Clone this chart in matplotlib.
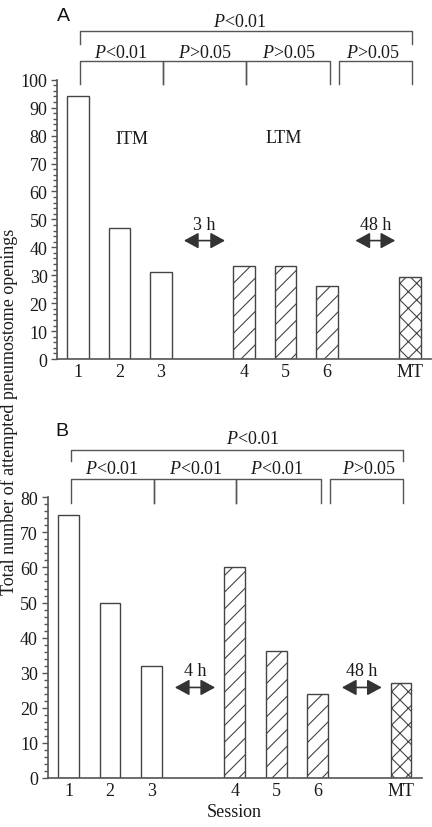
import numpy as np
import matplotlib
matplotlib.use('Agg')
import matplotlib.pyplot as plt
from matplotlib.ticker import MultipleLocator

plt.rcParams['font.family'] = 'Liberation Serif'
plt.rcParams['mathtext.fontset'] = 'custom'
plt.rcParams['mathtext.it'] = 'Liberation Serif:italic'
plt.rcParams['mathtext.rm'] = 'Liberation Serif'
plt.rcParams['hatch.linewidth'] = 0.8

# data
sessions = ['1', '2', '3', '4', '5', '6', 'MT']
counts_a = [94, 47, 31, 33.4, 33.4, 26.2, 29.2]
counts_b = [75, 50, 32, 60, 36.2, 24, 27]
hatches = ['', '', '', '//', '//', '//', 'xx']
inner_p_a = ['<0.01', '>0.05', '>0.05', '>0.05']
inner_p_b = ['<0.01', '<0.01', '<0.01', '>0.05']
outer_p = '<0.01'
gap_a = '3 h'
gap_b = '4 h'

xpos = [1, 2, 3, 5, 6, 7, 9]
LINE = '#555555'
TXT = '#1a1a1a'
FS = 13


def ptext(s):
    return r'$P$' + s


def draw_panel(ax, counts, ymax, width, inner_p, gap, lay):
    ax.bar(xpos, counts, width=width, color='white', edgecolor='#444444',
           linewidth=1.0)
    for b, h in zip(ax.patches, hatches):
        b.set_hatch(h)
    ax.set_xlim(0.5, 9.5)
    ax.set_ylim(0, ymax)
    ax.set_xticks(xpos)
    ax.set_xticklabels(sessions, fontsize=FS, color=TXT)
    ax.tick_params(axis='x', length=0, pad=3)
    ax.yaxis.set_major_locator(MultipleLocator(10))
    ax.yaxis.set_minor_locator(MultipleLocator(2))
    ax.tick_params(axis='y', which='major', length=4, width=1, color=LINE,
                   labelsize=FS, labelcolor=TXT, pad=3)
    ax.tick_params(axis='y', which='minor', length=3, width=1, color=LINE)
    for s in ['top', 'right']:
        ax.spines[s].set_visible(False)
    for s in ['left', 'bottom']:
        ax.spines[s].set_color(LINE)
        ax.spines[s].set_linewidth(1.2)

    # brackets
    kw = dict(color=LINE, lw=1.0, clip_on=False)
    oy, oe, ot, ox = lay['outer']
    ax.plot([1.05, 1.05, 9.05, 9.05], [oe, oy, oy, oe], **kw)
    ax.text(ox, ot, ptext(outer_p), ha='center', va='center', fontsize=FS,
            color=TXT, clip_on=False)
    iy, ie, it, ixs = lay['inner']
    spans = [(1.05, 3.05), (3.05, 5.04), (5.04, 7.07), (7.29, 9.05)]
    for (x0, x1), p, tx in zip(spans, inner_p, ixs):
        ax.plot([x0, x0, x1, x1], [ie, iy, iy, ie], **kw)
        ax.text(tx, it, ptext(p), ha='center', va='center', fontsize=FS,
                color=TXT, clip_on=False)

    # time gaps
    ay, ty, g1, g2 = lay['arrows']
    for (x0, x1), lbl in zip([g1, g2], [gap, '48 h']):
        ax.annotate('', xy=(x1, ay), xytext=(x0, ay),
                    arrowprops=dict(arrowstyle='<|-|>,head_length=0.55,head_width=0.3',
                                    color='#333333', lw=1.2, shrinkA=0, shrinkB=0,
                                    mutation_scale=16))
        ax.text((x0 + x1) / 2, ty, lbl, ha='center', va='center', fontsize=FS,
                color=TXT)


fig = plt.figure(figsize=(4.32, 8.28), dpi=100)
ax_a = fig.add_axes([0.1326, 0.5652, 0.8650, 0.3373])
ax_b = fig.add_axes([0.1104, 0.0592, 0.8657, 0.3390])

draw_panel(ax_a, counts_a, 100, 0.52, inner_p_a, gap_a, dict(
    outer=(117.3, 112.8, 120.9, 4.90),
    inner=(106.8, 98.5, 109.9, [2.03, 4.07, 6.08, 8.10]),
    arrows=(42.4, 48.3, (3.55, 4.54), (7.68, 8.64))))
ax_a.text(2.3, 78.8, 'ITM', ha='center', va='center', fontsize=FS, color=TXT)
ax_a.text(5.96, 79.4, 'LTM', ha='center', va='center', fontsize=FS, color=TXT)

draw_panel(ax_b, counts_b, 80, 0.5, inner_p_b, gap_b, dict(
    outer=(93.6, 90.3, 96.7, 5.44),
    inner=(85.2, 78.4, 88.3, [2.04, 4.06, 6.01, 8.23]),
    arrows=(25.8, 30.7, (3.56, 4.53), (7.58, 8.54))))
ax_b.set_xlabel('Session', fontsize=FS, color=TXT, labelpad=3)

fig.text(63.3 / 432, 1 - 16.7 / 828, 'A', fontsize=14, family='Liberation Sans',
         ha='center', va='center', color='#111111')
fig.text(61.7 / 432, 1 - 431.7 / 828, 'B', fontsize=14, family='Liberation Sans',
         ha='center', va='center', color='#111111')
fig.text(9.5 / 432, 1 - 412 / 828, 'Total number of attempted pneumostome openings',
         rotation=90, fontsize=FS, ha='center', va='center', color=TXT)

fig.savefig('out.png', dpi=100)
